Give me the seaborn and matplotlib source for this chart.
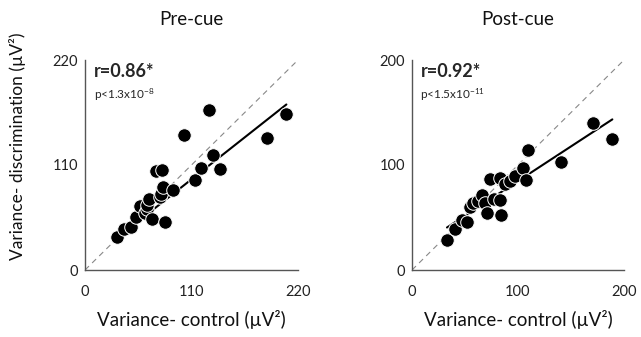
import matplotlib
matplotlib.use("Agg")
import matplotlib.pyplot as plt
import seaborn as sns
import pandas as pd
import numpy as np

# ---- data ----
pre_control = [33, 40, 47, 53, 57, 62, 64, 64, 66, 69, 77, 78, 81, 73, 80, 83, 91,
               102, 114, 120, 128, 132, 139, 188, 208]
pre_discrim = [35, 43, 45, 56, 67, 60, 64, 68, 74, 53, 76, 80, 87, 104, 105, 50, 84,
               141, 94, 107, 168, 121, 106, 138, 163]

post_control = [33, 41, 47, 52, 55, 58, 62, 66, 69, 71, 77, 83, 84, 74, 83, 88, 92,
                97, 105, 108, 109, 141, 171, 189]
post_discrim = [29, 39, 48, 46, 60, 64, 66, 71, 64, 54, 68, 67, 52, 87, 88, 82, 85,
                90, 97, 86, 114, 103, 140, 125]

# fitted regression lines as drawn in the reference (slope, intercept)
fit_slope = [0.80, 0.66]
fit_intercept = [7.0, 18.7]

titles = ["Pre-cue", "Post-cue"]
limits = [220, 200]
ticks = [[0, 110, 220], [0, 100, 200]]
r_labels = ["r=0.86*", "r=0.92*"]
p_labels = [r"p<1.3x10$^{-8}$", r"p<1.5x10$^{-11}$"]
xlabel = "Variance- control (µV²)"
ylabel = "Variance- discrimination (µV²)"

sns.set_style("white")
plt.rcParams["font.family"] = ["Lato", "DejaVu Sans"]
plt.rcParams["mathtext.fontset"] = "custom"
plt.rcParams["mathtext.rm"] = "Lato"
plt.rcParams["mathtext.it"] = "Lato"

fig = plt.figure(figsize=(6.41, 3.37), dpi=100)
axes = [fig.add_axes([85/641, 67/337, 213/641, 210/337]),
        fig.add_axes([412/641, 67/337, 212/641, 210/337])]

datasets = [(pre_control, pre_discrim), (post_control, post_discrim)]
for i, (ax, (xs, ys)) in enumerate(zip(axes, datasets)):
    df = pd.DataFrame({"control": xs, "discrim": ys})
    lim = limits[i]
    ax.axline((0, 0), slope=1, color="#888888", lw=0.8, ls=(0, (5, 4)), zorder=1)
    fx = np.array([min(xs), max(xs)], dtype=float)
    fit = pd.DataFrame({"control": fx, "discrim": fit_slope[i] * fx + fit_intercept[i]})
    sns.lineplot(data=fit, x="control", y="discrim", ax=ax, color="black", lw=1.5,
                 zorder=2)
    sns.scatterplot(data=df, x="control", y="discrim", ax=ax, color="black",
                    edgecolor="white", linewidth=0.7, s=95, zorder=3)
    ax.set_xlim(0, lim)
    ax.set_ylim(0, lim)
    ax.set_xticks(ticks[i])
    ax.set_yticks(ticks[i])
    ax.set_xlabel(xlabel, fontsize=13.5, labelpad=8, color="#111111")
    ax.set_ylabel("")
    ax.set_title(titles[i], fontsize=13.5, pad=25, color="#111111")
    for s in ["top", "right"]:
        ax.spines[s].set_visible(False)
    for s in ["left", "bottom"]:
        ax.spines[s].set_color("#555555")
        ax.spines[s].set_linewidth(1.0)
    ax.tick_params(axis="both", direction="in", length=4, width=0.8, color="#555555",
                   labelsize=10.5, labelcolor="#222222")
    ax.tick_params(axis="x", pad=11)
    ax.tick_params(axis="y", pad=5)
    ax.text(0.04, 0.985, r_labels[i], transform=ax.transAxes, fontsize=13,
            fontweight="bold", va="top", ha="left")
    ax.text(0.04, 0.875, p_labels[i], transform=ax.transAxes, fontsize=8.5,
            va="top", ha="left")

fig.text(18/641, 1 - 146/337, ylabel, rotation=90, va="center", ha="center",
         fontsize=12.5, color="#111111")

fig.savefig("out.png", dpi=100)
